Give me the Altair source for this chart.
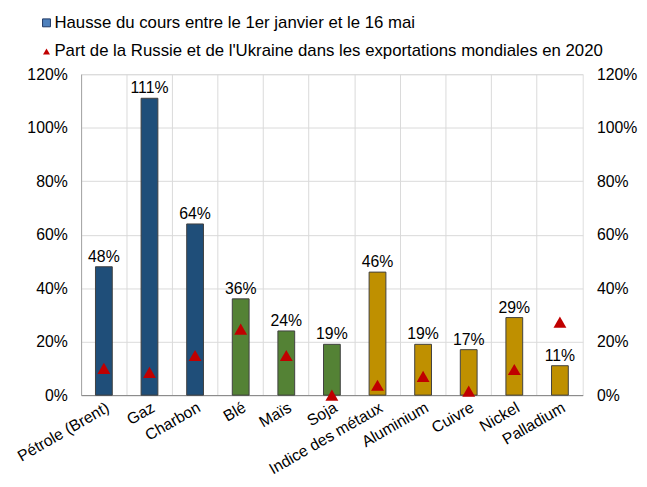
import altair as alt
import pandas as pd

categories = ["Pétrole (Brent)", "Gaz", "Charbon", "Blé", "Maïs", "Soja",
              "Indice des métaux", "Aluminium", "Cuivre", "Nickel", "Palladium"]
hausse = [0.48, 1.11, 0.64, 0.36, 0.24, 0.19, 0.46, 0.19, 0.17, 0.29, 0.11]
part = [0.10, 0.085, 0.148, 0.247, 0.148, 0.0, 0.037, 0.07, 0.015, 0.096, 0.273]
groupe = ["énergie"] * 3 + ["agri"] * 3 + ["métaux"] * 5
couleurs = {"énergie": "#1F4E79", "agri": "#548235", "métaux": "#BF9000"}
legend_labels = ["Hausse du cours entre le 1er janvier et le 16 mai",
                 "Part de la Russie et de l'Ukraine dans les exportations mondiales en 2020"]

df = pd.DataFrame({
    "cat": categories,
    "hausse": hausse,
    "part": part,
    "couleur": [couleurs[g] for g in groupe],
    "label": [f"{round(v*100)}%" for v in hausse],
})

FONT = "Liberation Sans"
W, H = 508, 325

xenc = alt.X("cat:N", sort=categories, title=None,
             scale=alt.Scale(paddingInner=0, paddingOuter=0),
             axis=alt.Axis(bandPosition=0, labelAngle=330,
                           labelAlign="right", labelBaseline="top", labelPadding=4,
                           ticks=False, grid=True, gridColor="#D9D9D9",
                           domainColor="#808080", labelFont=FONT, labelFontSize=16,
                           labelColor="#000000"))
yscale = alt.Scale(domain=[0, 1.2])
yaxis_left = alt.Axis(format=".0%", values=[0, 0.2, 0.4, 0.6, 0.8, 1.0, 1.2],
                      ticks=False, grid=True, gridColor="#D9D9D9", domainColor="#A6A6A6",
                      labelFont=FONT, labelFontSize=16, labelColor="#000000",
                      labelPadding=14, title=None)
yaxis_right = alt.Axis(format=".0%", values=[0, 0.2, 0.4, 0.6, 0.8, 1.0, 1.2],
                       orient="right", ticks=False, grid=False, domain=False,
                       labelFont=FONT, labelFontSize=16, labelColor="#000000",
                       labelPadding=14, title=None)

base = alt.Chart(df)
bars = base.mark_bar(size=17, stroke="#404040", strokeWidth=1).encode(
    x=xenc,
    y=alt.Y("hausse:Q", scale=yscale, axis=yaxis_left),
    color=alt.Color("couleur:N", scale=None),
)
labels = base.mark_text(baseline="bottom", dy=-2, font=FONT, fontSize=16, color="#000000").encode(
    x=alt.X("cat:N", sort=categories),
    y=alt.Y("hausse:Q", scale=yscale),
    text="label:N",
)
tri = base.mark_point(shape="triangle-up", filled=True, color="#C00000", size=170, opacity=1).encode(
    x=alt.X("cat:N", sort=categories),
    y=alt.Y("part:Q", scale=yscale),
)
left = alt.layer(bars, labels, tri)

right = base.mark_point(opacity=0).encode(
    x=alt.X("cat:N", sort=categories),
    y=alt.Y("part:Q", scale=yscale, axis=yaxis_right),
)

leg_df = pd.DataFrame({"t1": [legend_labels[0]], "t2": [legend_labels[1]]})
leg = alt.Chart(leg_df)
leg_sq = leg.mark_square(size=64, color="#4F81BD", stroke="#1F3864", strokeWidth=1, opacity=1).encode(
    x=alt.value(-35), y=alt.value(-52))
leg_t1 = leg.mark_text(align="left", baseline="middle", font=FONT, fontSize=17, color="#000000").encode(
    x=alt.value(-27), y=alt.value(-52), text="t1:N")
leg_tri = leg.mark_point(shape="triangle-up", filled=True, color="#C00000", size=50, opacity=1).encode(
    x=alt.value(-35), y=alt.value(-23))
leg_t2 = leg.mark_text(align="left", baseline="middle", font=FONT, fontSize=17, color="#000000").encode(
    x=alt.value(-27), y=alt.value(-23), text="t2:N")

chart = alt.layer(left, right, leg_sq, leg_t1, leg_tri, leg_t2).resolve_scale(
    y="independent"
).properties(
    width=W, height=H,
    autosize=alt.AutoSizeParams(type="none"),
    padding={"left": 74, "top": 64, "right": 57, "bottom": 90},
).configure_view(stroke="#595959", strokeWidth=1).configure(background="white")

chart.save("out.html", embed_options={"renderer": "svg", "actions": False})
